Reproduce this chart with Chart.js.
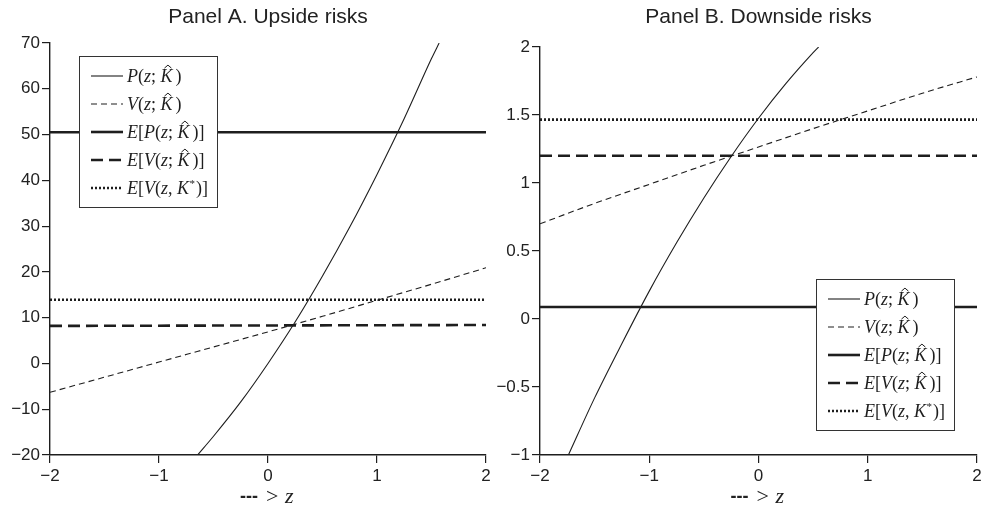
<!DOCTYPE html>
<html><head><meta charset="utf-8">
<script src="https://cdn.jsdelivr.net/npm/chart.js@4.4.0/dist/chart.umd.min.js"></script>
<style>
html,body{margin:0;padding:0;background:#fff;width:981px;height:506px;overflow:hidden}
#wa{position:absolute;left:0;top:0;width:490px;height:506px}
#wb{position:absolute;left:490px;top:0;width:491px;height:506px}
</style></head><body>
<div id="wa"><canvas id="ca"></canvas></div>
<div id="wb"><canvas id="cb"></canvas></div>
<script>
// ---------- Panel A data ----------
const zPA = [-0.65, -0.5, -0.25, 0, 0.25, 0.5, 0.75, 1.0, 1.25, 1.5, 1.57];
const PA  = [-20.1, -15.9, -8.4, 0, 9.1, 19.1, 29.8, 41.3, 53.5, 66.6, 70];
const zV  = [-2, -1.5, -1, -0.5, 0, 0.5, 1, 1.5, 2];
const VA  = [-6.3, -3.0, 0.3, 3.6, 6.9, 10.3, 13.8, 17.3, 20.9];
const zFlat = [-2, 2];
const EPA  = [50.5, 50.5];
const EVA  = [8.2, 8.4];
const EVSA = [13.9, 13.9];
// ---------- Panel B data ----------
const zPB = [-1.74, -1.5, -1.25, -1.0, -0.75, -0.5, -0.25, 0, 0.25, 0.5, 0.55];
const PB  = [-1, -0.58, -0.18, 0.205, 0.56, 0.89, 1.195, 1.476, 1.73, 1.958, 2.0];
const VB  = [0.70, 0.85, 0.99, 1.13, 1.265, 1.40, 1.53, 1.66, 1.78];
const EPB  = [0.088, 0.088];
const EVB  = [1.2, 1.2];
const EVSB = [1.466, 1.466];
// ---------- ticks / labels ----------
const xTicks  = [-2, -1, 0, 1, 2];
const yTicksA = [-20, -10, 0, 10, 20, 30, 40, 50, 60, 70];
const yTicksB = [-1, -0.5, 0, 0.5, 1, 1.5, 2];
const titleA = 'Panel A. Upside risks';
const titleB = 'Panel B. Downside risks';
// legend labels: [text, kind] kind: i=italic, r=roman, h=italic with hat, s=superscript
const legendLabels = [
  [['P','i'],['(','r'],['z','i'],['; ','r'],['K','h'],[')','r']],
  [['V','i'],['(','r'],['z','i'],['; ','r'],['K','h'],[')','r']],
  [['E','i'],['[','r'],['P','i'],['(','r'],['z','i'],['; ','r'],['K','h'],[')]','r']],
  [['E','i'],['[','r'],['V','i'],['(','r'],['z','i'],['; ','r'],['K','h'],[')]','r']],
  [['E','i'],['[','r'],['V','i'],['(','r'],['z','i'],[', ','r'],['K','i'],['*','s'],[')]','r']]
];

const INK = '#1e1e1e';
const styles = [
  {w:1.1, d:[]},
  {w:1.1, d:[6,4]},
  {w:2.6, d:[]},
  {w:2.6, d:[12,6]},
  {w:2.6, d:[2,2]}
];
const pts = (xs, ys) => xs.map((x, i) => ({x, y: ys[i]}));
const fmt = v => { const s = String(v); return v < 0 ? '\u2212' + s.slice(1) : s; };

function drawRich(ctx, parts, x, y, size) {
  ctx.fillStyle = INK; ctx.strokeStyle = INK; ctx.textBaseline = 'alphabetic'; ctx.textAlign = 'left';
  for (const [t, k] of parts) {
    if (k === 's') {
      ctx.font = `${Math.round(size*0.6)}px "Liberation Serif"`;
      ctx.fillText(t, x + 0.5, y - size*0.4);
      x += ctx.measureText(t).width + 1.5;
      continue;
    }
    ctx.font = (k === 'r' ? '' : 'italic ') + `${size}px "Liberation Serif"`;
    ctx.fillText(t, x, y);
    const w = ctx.measureText(t).width;
    if (k === 'h') {
      const cx = x + w*0.62, top = y - size*0.66 - 5;
      ctx.beginPath(); ctx.lineWidth = 1; ctx.setLineDash([]);
      ctx.moveTo(cx - 3.5, top + 3); ctx.lineTo(cx, top); ctx.lineTo(cx + 3.5, top + 3); ctx.stroke();
      x += w + 3;
    } else x += w;
  }
}

function makePlugin(title, legendPos) {
  return {
    id: 'deco',
    afterDatasetsDraw(chart) {
      const ctx = chart.ctx, ca = chart.chartArea;
      const bx = legendPos.right ? ca.right - legendPos.dx : ca.left + legendPos.dx;
      const by = ca.top + legendPos.dy;
      const bw = 138, bh = 151;
      ctx.save();
      ctx.fillStyle = '#fff'; ctx.fillRect(bx, by, bw, bh);
      ctx.strokeStyle = '#333'; ctx.lineWidth = 1; ctx.setLineDash([]);
      ctx.strokeRect(bx + 0.5, by + 0.5, bw, bh);
      legendLabels.forEach((parts, i) => {
        const ry = by + 20 + i*28;
        const st = styles[i];
        ctx.beginPath(); ctx.strokeStyle = INK; ctx.lineWidth = st.w; ctx.setLineDash(st.d);
        ctx.moveTo(bx + 12, ry); ctx.lineTo(bx + 44, ry); ctx.stroke();
        ctx.setLineDash([]);
        drawRich(ctx, parts, bx + 48, ry + 6, 18);
      });
      ctx.restore();
    },
    afterDraw(chart) {
      const ctx = chart.ctx, ca = chart.chartArea;
      const cx = (ca.left + ca.right) / 2;
      ctx.save();
      ctx.fillStyle = '#222'; ctx.textAlign = 'center'; ctx.textBaseline = 'middle';
      ctx.font = '21px "Liberation Sans"';
      ctx.fillText(title, cx, 17);
      const y = 497;
      ctx.textBaseline = 'alphabetic'; ctx.textAlign = 'left';
      ctx.font = 'bold 18px "Liberation Sans"';
      ctx.fillText('---', cx - 28, y + 5);
      ctx.font = '22px "Liberation Serif"';
      ctx.fillText('>', cx - 2, y + 6);
      ctx.font = 'italic 22px "Liberation Serif"';
      ctx.fillText('z', cx + 17, y + 6);
      ctx.restore();
    }
  };
}

function makeChart(id, d, yMin, yMax, yTicks, top, title, legendPos) {
  const tickFont = {family: '"Liberation Sans"', size: 17};
  return new Chart(document.getElementById(id), {
    type: 'line',
    data: {
      datasets: d.map((arr, i) => ({
        data: arr, borderColor: INK, borderWidth: styles[i].w, borderDash: styles[i].d,
        pointRadius: 0, fill: false, cubicInterpolationMode: 'monotone', borderCapStyle: 'butt'
      }))
    },
    options: {
      responsive: true, maintainAspectRatio: false, animation: false,
      layout: {padding: {top: top, left: 0, right: 4, bottom: 0}},
      plugins: {legend: {display: false}, title: {display: false}, tooltip: {enabled: false}},
      scales: {
        x: {
          type: 'linear', min: -2, max: 2,
          afterBuildTicks: s => { s.ticks = xTicks.map(v => ({value: v})); },
          afterFit: s => { s.height = 51; s.paddingLeft = 0; s.paddingRight = 0; },
          ticks: {callback: fmt, font: tickFont, color: '#222', padding: 3, maxRotation: 0, autoSkip: false},
          grid: {drawOnChartArea: false, drawTicks: true, tickLength: 8, color: INK, lineWidth: 1.2},
          border: {color: INK, width: 1.4}
        },
        y: {
          type: 'linear', min: yMin, max: yMax,
          afterBuildTicks: s => { s.ticks = yTicks.map(v => ({value: v})); },
          afterFit: s => { s.width = 50; s.paddingTop = 0; s.paddingBottom = 0; },
          ticks: {callback: fmt, font: tickFont, color: '#222', padding: 2, autoSkip: false},
          grid: {drawOnChartArea: false, drawTicks: true, tickLength: 8, color: INK, lineWidth: 1.2},
          border: {color: INK, width: 1.4}
        }
      }
    },
    plugins: [makePlugin(title, legendPos)]
  });
}

makeChart('ca',
  [pts(zPA, PA), pts(zV, VA), pts(zFlat, EPA), pts(zFlat, EVA), pts(zFlat, EVSA)],
  -20, 70, yTicksA, 43, titleA, {right: false, dx: 29, dy: 13});
makeChart('cb',
  [pts(zPB, PB), pts(zV, VB), pts(zFlat, EPB), pts(zFlat, EVB), pts(zFlat, EVSB)],
  -1, 2, yTicksB, 47, titleB, {right: true, dx: 161, dy: 232});
</script>
</body></html>
